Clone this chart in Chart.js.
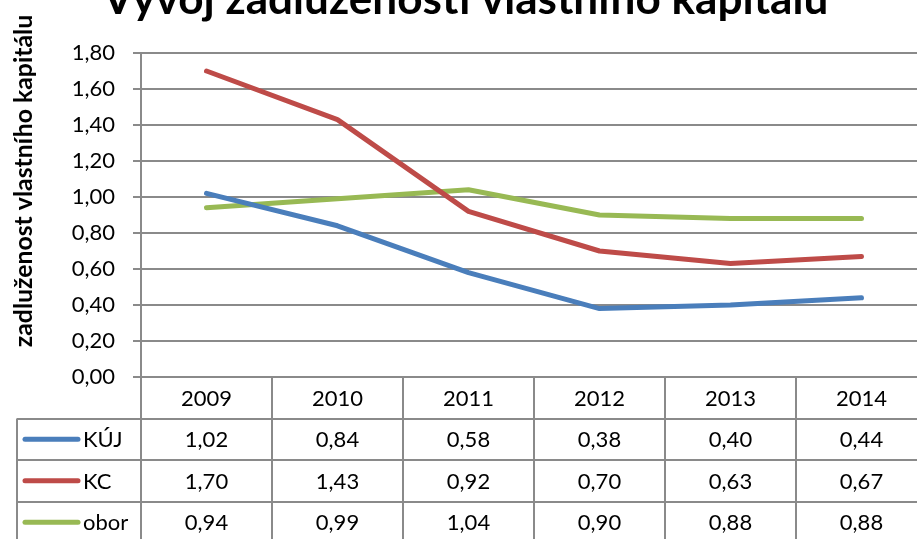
<!DOCTYPE html>
<html lang="cs">
<head>
<meta charset="utf-8">
<title>Vývoj zadluženosti vlastního kapitálu</title>
<script src="https://cdn.jsdelivr.net/npm/chart.js@4/dist/chart.umd.min.js"></script>
<style>
  html, body { margin: 0; padding: 0; background: #ffffff; overflow: hidden; }
  #wrap { position: relative; width: 917px; height: 539px; overflow: hidden; }
  canvas { position: absolute; left: 0; top: 0; }
</style>
</head>
<body>
<div id="wrap"><canvas id="chart" width="940" height="539"></canvas></div>
<script>
// Roky a hodnoty zadluženosti vlastního kapitálu
const years = ['2009', '2010', '2011', '2012', '2013', '2014'];
const kuj   = [1.02, 0.84, 0.58, 0.38, 0.40, 0.44];
const kc    = [1.70, 1.43, 0.92, 0.70, 0.63, 0.67];
const obor  = [0.94, 0.99, 1.04, 0.90, 0.88, 0.88];
const seriesNames = ['KÚJ', 'KC', 'obor'];
const seriesColors = ['#4A7EBB', '#BE4B48', '#98B954'];

const chartTitle = 'Vývoj zadluženosti vlastního kapitálu';
const yTitle = 'zadluženost vlastního kapitálu';

const GRID = '#8a8a8a';
const FONT = 'Lato, "Open Sans", "Liberation Sans", sans-serif';
const fmt = v => v.toFixed(2).replace('.', ',');

// Vodorovná mřížka přes plochu grafu (pod křivkami)
const gridLines = {
  id: 'gridLines',
  beforeDatasetsDraw(chart) {
    const ctx = chart.ctx;
    const y = chart.scales.y;
    const area = chart.chartArea;
    ctx.save();
    ctx.strokeStyle = GRID;
    ctx.lineWidth = 2;
    ctx.beginPath();
    y.ticks.forEach(t => {
      const py = Math.round(y.getPixelForValue(t.value));
      ctx.moveTo(area.left, py);
      ctx.lineTo(chart.width, py);
    });
    ctx.stroke();
    ctx.restore();
  }
};

// Titulky a datová tabulka pod grafem
const extras = {
  id: 'extras',
  afterDraw(chart) {
    const ctx = chart.ctx;
    const x = chart.scales.x;
    const area = chart.chartArea;
    const band = (x.getPixelForValue(1) - x.getPixelForValue(0));
    const rowH = 41.5;
    const top = area.bottom;
    const rows = [kuj, kc, obor];

    ctx.save();
    // hlavní nadpis
    ctx.fillStyle = '#000';
    ctx.font = 'bold 36px ' + FONT;
    let w = ctx.measureText(chartTitle).width;
    let size = 36 * 725 / w;
    ctx.font = 'bold ' + size.toFixed(1) + 'px ' + FONT;
    ctx.textAlign = 'center';
    ctx.textBaseline = 'alphabetic';
    ctx.fillText(chartTitle, 465.5, 14);

    // popis osy Y
    ctx.font = 'bold 20px ' + FONT;
    w = ctx.measureText(yTitle).width;
    size = 20 * 332 / w;
    ctx.font = 'bold ' + size.toFixed(1) + 'px ' + FONT;
    ctx.translate(24, 181);
    ctx.rotate(-Math.PI / 2);
    ctx.textBaseline = 'middle';
    ctx.fillText(yTitle, 0, 0);
    ctx.setTransform(1, 0, 0, 1, 0, 0);

    // mřížka tabulky
    ctx.strokeStyle = GRID;
    ctx.lineWidth = 2;
    const tableLeft = 17;
    const bottom = chart.height;
    ctx.beginPath();
    ctx.moveTo(area.left, area.top);
    ctx.lineTo(area.left, bottom);
    ctx.moveTo(tableLeft, top + rowH);
    ctx.lineTo(tableLeft, bottom);
    for (let i = 0; i < years.length; i++) {
      const xr = Math.round(x.getPixelForValue(i) + band / 2);
      ctx.moveTo(xr, top);
      ctx.lineTo(xr, bottom);
    }
    for (let r = 1; r <= 3; r++) {
      const yy = Math.round(top + r * rowH);
      ctx.moveTo(tableLeft, yy);
      ctx.lineTo(chart.width, yy);
    }
    ctx.stroke();

    // záhlaví s roky
    ctx.fillStyle = '#000';
    ctx.font = '22px ' + FONT;
    ctx.textAlign = 'center';
    ctx.textBaseline = 'middle';
    years.forEach((yr, i) => {
      ctx.fillText(yr, x.getPixelForValue(i), top + rowH / 2 + 1);
    });

    // řádky s legendou a hodnotami
    rows.forEach((vals, r) => {
      const cy = top + (r + 1) * rowH + rowH / 2 + 1;
      ctx.strokeStyle = seriesColors[r];
      ctx.lineWidth = 5;
      ctx.lineCap = 'round';
      ctx.beginPath();
      ctx.moveTo(25, cy - 1);
      ctx.lineTo(78, cy - 1);
      ctx.stroke();
      ctx.textAlign = 'left';
      ctx.fillText(seriesNames[r], 83, cy);
      ctx.textAlign = 'center';
      vals.forEach((v, i) => {
        ctx.fillText(fmt(v), x.getPixelForValue(i), cy);
      });
    });
    ctx.restore();
  }
};

const mkSet = (label, data, color) => ({
  label, data,
  borderColor: color,
  backgroundColor: color,
  borderWidth: 5,
  borderCapStyle: 'round',
  borderJoinStyle: 'round',
  pointRadius: 0,
  tension: 0,
  fill: false
});

new Chart(document.getElementById('chart'), {
  type: 'line',
  data: {
    labels: years,
    datasets: [
      mkSet(seriesNames[0], kuj, seriesColors[0]),
      mkSet(seriesNames[1], kc, seriesColors[1]),
      mkSet(seriesNames[2], obor, seriesColors[2])
    ]
  },
  options: {
    responsive: false,
    devicePixelRatio: 1,
    animation: false,
    layout: { padding: { left: 0, top: 53, right: 13, bottom: 162 } },
    plugins: {
      legend: { display: false },
      title: { display: false },
      tooltip: { enabled: false }
    },
    scales: {
      x: {
        type: 'category',
        display: false,
        offset: true
      },
      y: {
        min: 0,
        max: 1.8,
        afterFit(scale) { scale.width = 141; },
        ticks: {
          stepSize: 0.2,
          padding: 18,
          color: '#000',
          font: { family: FONT, size: 22 },
          callback: v => fmt(v)
        },
        grid: { color: GRID, lineWidth: 2, tickLength: 8, drawOnChartArea: false },
        border: { color: GRID, width: 2 }
      }
    }
  },
  plugins: [gridLines, extras]
});
</script>
</body>
</html>
